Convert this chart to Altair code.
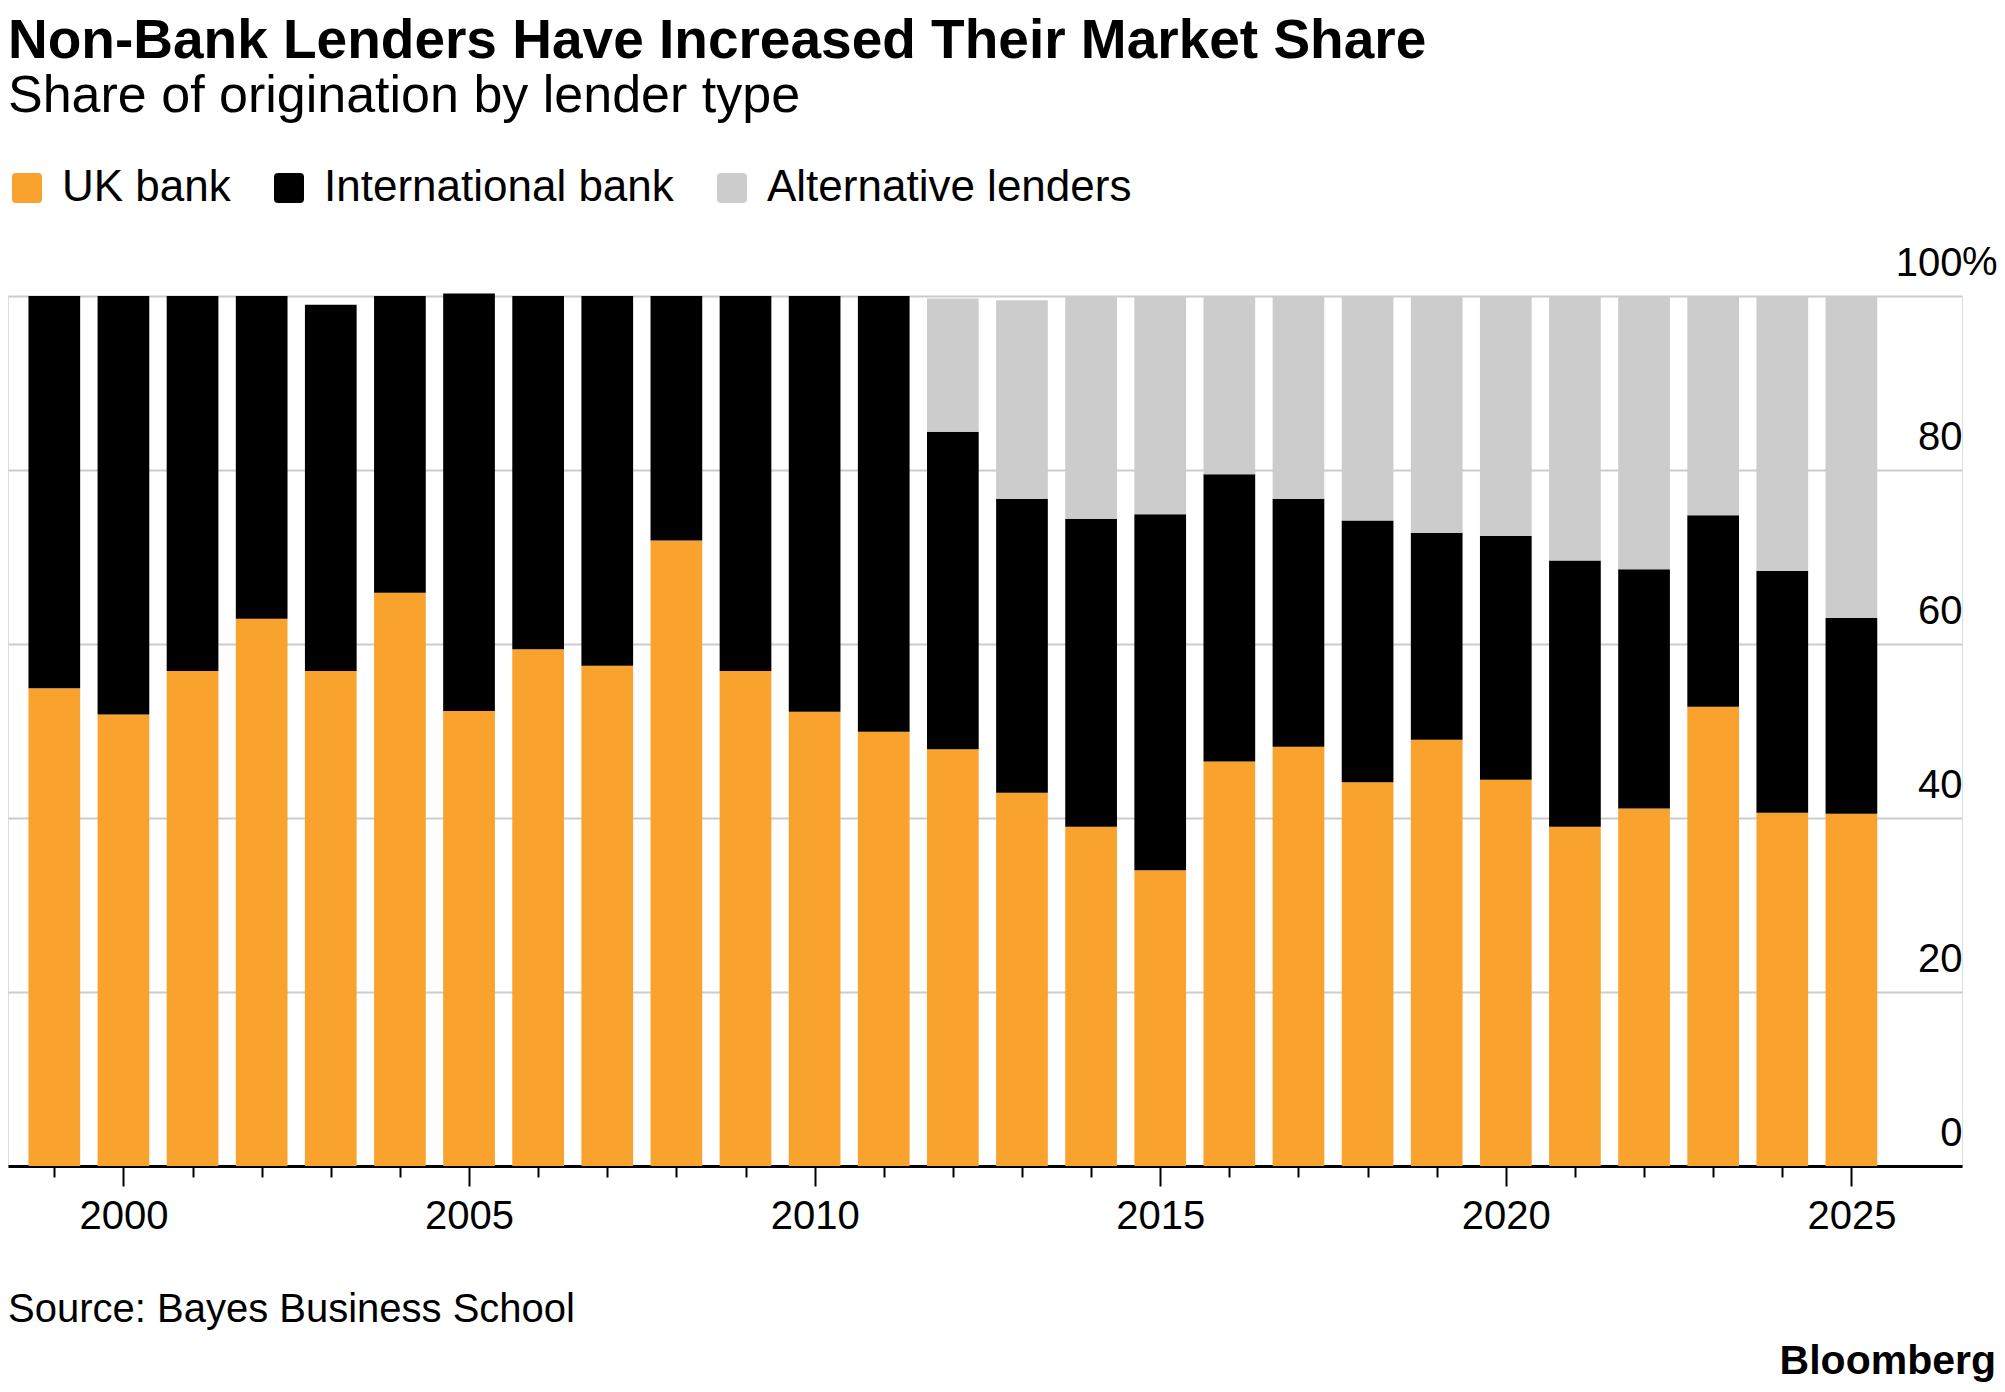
import altair as alt
import pandas as pd

# ---------------- data ----------------
years = list(range(1999, 2026))
uk_bank = [54.9, 51.9, 56.9, 62.9, 56.9, 65.9, 52.3, 59.4, 57.5, 71.9, 56.9, 52.2, 49.9,
           47.9, 42.9, 39.0, 34.0, 46.5, 48.2, 44.1, 49.0, 44.4, 39.0, 41.1, 52.8, 40.6, 40.5]
international_bank = [45.1, 48.1, 43.1, 37.1, 42.1, 34.1, 48.0, 40.6, 42.5, 28.1, 43.1, 47.8, 50.1,
                      36.5, 33.8, 35.4, 40.9, 33.0, 28.5, 30.1, 23.8, 28.0, 30.6, 27.5, 22.0, 27.8, 22.5]
alternative_lenders = [None] * 13 + [15.3, 22.8, 25.6, 25.1, 20.5, 23.3, 25.8, 27.2, 27.6,
                                     30.4, 31.4, 25.2, 31.6, 37.0]

series_names = ["UK bank", "International bank", "Alternative lenders"]
series_colors = ["#f9a22d", "#000000", "#cccccc"]
y_ticks = [0, 20, 40, 60, 80, 100]
title_text = "Non-Bank Lenders Have Increased Their Market Share"
subtitle_text = "Share of origination by lender type"
source_text = "Source: Bayes Business School"
brand_text = "Bloomberg"

# ---------------- build table ----------------
rows = []
for i, y in enumerate(years):
    for rank, (name, vals) in enumerate(zip(series_names, [uk_bank, international_bank, alternative_lenders])):
        v = vals[i]
        if v is not None:
            rows.append({"year": y, "lender": name, "value": v, "rank": rank})
df = pd.DataFrame(rows)

FONT = "Liberation Sans, Arial, Helvetica, sans-serif"
W, H = 1954, 870

xscale = alt.Scale(domain=[1998.33, 2026.6], nice=False, zero=False)
yscale = alt.Scale(domain=[0, 100], nice=False)

rounded_square = ("M-0.73,-1H0.73Q1,-1,1,-0.73V0.73Q1,1,0.73,1H-0.73"
                  "Q-1,1,-1,0.73V-0.73Q-1,-1,-0.73,-1Z")

bars = (
    alt.Chart(df)
    .transform_stack(stack="value", groupby=["year"], as_=["v0", "v1"],
                     sort=[alt.SortField("rank", order="ascending")])
    .transform_calculate(x0="datum.year - 0.374", x1="datum.year + 0.374")
    .mark_bar(strokeWidth=0)
    .encode(
        x=alt.X("x0:Q", scale=xscale, title=None,
                axis=alt.Axis(values=years, format="d",
                              labelExpr="datum.value % 5 === 0 ? datum.label : ''",
                              tickSize={"condition": {"test": "datum.value % 5 === 0", "value": 20}, "value": 11},
                              tickWidth=2, tickColor="#000000",
                              domainColor="#000000", domainWidth=3,
                              labelFontSize=40, labelColor="#000000", labelFont=FONT,
                              labelBaseline="alphabetic", labelPadding=42,
                              labelOverlap=False, labelFlush=False, grid=False)),
        x2="x1:Q",
        y=alt.Y("v0:Q", scale=yscale, title=None,
                axis=alt.Axis(orient="right", values=y_ticks, grid=True,
                              gridColor="#cccccc", gridWidth=2, domain=False, ticks=False,
                              labelAlign="right", labelBaseline="alphabetic", labelOffset=-21,
                              labelPadding=0, labelFontSize=40, labelColor="#000000",
                              labelFont=FONT, labelFlush=False)),
        y2="v1:Q",
        color=alt.Color("lender:N",
                        scale=alt.Scale(domain=series_names, range=series_colors),
                        legend=alt.Legend(orient="none", legendX=-3, legendY=-130,
                                          direction="horizontal", title=None,
                                          symbolType=rounded_square, symbolSize=900,
                                          symbolStrokeWidth=0, symbolOpacity=1,
                                          labelFontSize=44, labelFont=FONT, labelColor="#000000",
                                          labelLimit=0, labelOffset=13, columnPadding=36,
                                          padding=0)),
    )
)

pct = (
    alt.Chart(pd.DataFrame({"v": [100], "t": ["%"]}))
    .mark_text(align="left", baseline="alphabetic", dy=-21, fontSize=40, font=FONT, color="#000000")
    .encode(x=alt.value(W), y=alt.Y("v:Q", scale=yscale, title=None), text="t:N")
)

source = (
    alt.Chart(pd.DataFrame({"t": [source_text]}))
    .mark_text(align="left", baseline="alphabetic", fontSize=40, font=FONT, color="#000000")
    .encode(x=alt.value(0), y=alt.value(H + 156), text="t:N")
)

brand = (
    alt.Chart(pd.DataFrame({"t": [brand_text]}))
    .mark_text(align="right", baseline="alphabetic", fontSize=41, fontWeight="bold",
               font=FONT, color="#000000")
    .encode(x=alt.value(W + 34), y=alt.value(H + 208), text="t:N")
)

chart = (
    alt.layer(bars, pct, source, brand)
    .properties(
        width=W, height=H,
        title=alt.TitleParams(text=title_text, subtitle=subtitle_text, anchor="start",
                              frame="group", fontSize=55, fontWeight="bold", font=FONT,
                              color="#000000", subtitleFontSize=52, subtitleFont=FONT,
                              subtitleColor="#000000", subtitlePadding=1, offset=43),
        autosize=alt.AutoSizeParams(type="none"),
        padding={"left": 0, "top": 288, "right": 35, "bottom": 216},
    )
    .configure_view(stroke=None)
    .configure(background="#ffffff")
)

chart.save("out.html", embed_options={"renderer": "svg", "actions": False})
